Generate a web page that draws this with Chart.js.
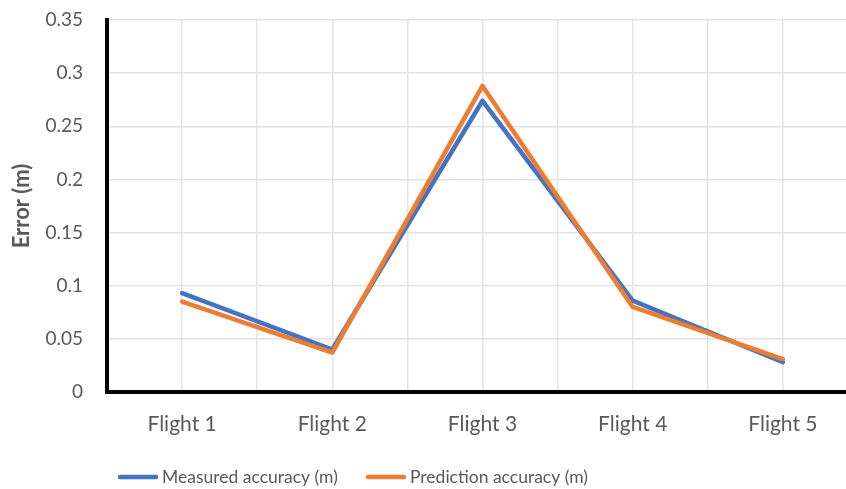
<!DOCTYPE html>
<html>
<head>
<meta charset="utf-8">
<script src="https://cdn.jsdelivr.net/npm/chart.js@4.4.1/dist/chart.umd.min.js"></script>
<style>
  html, body { margin: 0; padding: 0; background: #fff; overflow: hidden; }
  #wrap { width: 858px; height: 489px; }
</style>
</head>
<body>
<div id="wrap"><canvas id="chart" width="858" height="489"></canvas></div>
<script>
// Flights along the x axis
const categories = ['Flight 1', 'Flight 2', 'Flight 3', 'Flight 4', 'Flight 5'];

// Error per flight, metres
const measuredAccuracy = [0.093, 0.040, 0.274, 0.086, 0.028];
const predictionAccuracy = [0.085, 0.037, 0.288, 0.080, 0.031];

const seriesNames = ['Measured accuracy (m)', 'Prediction accuracy (m)'];
const yTicks = [0, 0.05, 0.1, 0.15, 0.2, 0.25, 0.3, 0.35];

const BLUE = '#4472C4';
const ORANGE = '#ED7D31';
const TEXT = '#595959';
const GRID = '#e3e3e3';
const FONT = 'Lato';

const toPoints = vals => vals.map((v, i) => ({ x: i + 1, y: v }));

// Legend drawn below the plot: a short line sample followed by the series name
const bottomLegend = {
  id: 'bottomLegend',
  afterDraw(chart, args, opts) {
    const ctx = chart.ctx;
    ctx.save();
    ctx.font = `${opts.fontSize}px ${FONT}`;
    ctx.textBaseline = 'middle';
    ctx.textAlign = 'left';
    chart.data.datasets.forEach((ds, i) => {
      const x = opts.starts[i];
      ctx.strokeStyle = ds.borderColor;
      ctx.lineWidth = opts.lineWidth;
      ctx.lineCap = 'round';
      ctx.beginPath();
      ctx.moveTo(x + 2, opts.y);
      ctx.lineTo(x + opts.sample - 2, opts.y);
      ctx.stroke();
      ctx.fillStyle = TEXT;
      ctx.fillText(ds.label, x + opts.sample + opts.gap, opts.y);
    });
    ctx.restore();
  }
};

new Chart(document.getElementById('chart'), {
  type: 'line',
  data: {
    datasets: [
      {
        label: seriesNames[0],
        data: toPoints(measuredAccuracy),
        borderColor: BLUE,
        backgroundColor: BLUE,
        borderWidth: 4.5,
        pointRadius: 0,
        tension: 0,
        borderCapStyle: 'round',
        borderJoinStyle: 'round',
        order: 1
      },
      {
        label: seriesNames[1],
        data: toPoints(predictionAccuracy),
        borderColor: ORANGE,
        backgroundColor: ORANGE,
        borderWidth: 4.5,
        pointRadius: 0,
        tension: 0,
        borderCapStyle: 'round',
        borderJoinStyle: 'round',
        order: 0
      }
    ]
  },
  options: {
    responsive: false,
    animation: false,
    layout: { padding: { top: 20, left: 0, right: 0, bottom: 52 } },
    plugins: {
      legend: { display: false },
      tooltip: { enabled: false },
      bottomLegend: { starts: [118, 366], y: 477, sample: 40, gap: 4, lineWidth: 4.5, fontSize: 17.5 }
    },
    scales: {
      x: {
        type: 'linear',
        min: 0.5,
        max: 5.5,
        afterFit: axis => { axis.height = 45; },
        grid: { color: GRID, lineWidth: 1.5, drawTicks: true, tickLength: 20, tickColor: 'rgba(0,0,0,0)' },
        border: { color: '#000', width: 4 },
        ticks: {
          stepSize: 0.5,
          autoSkip: false,
          maxRotation: 0,
          padding: 0,
          color: TEXT,
          font: { family: FONT, size: 21 },
          callback: v => Number.isInteger(v) ? categories[v - 1] : ''
        }
      },
      y: {
        min: 0,
        max: 0.35,
        afterBuildTicks: axis => { axis.ticks = yTicks.map(v => ({ value: v })); },
        afterFit: axis => { axis.width = 107; },
        grid: { color: GRID, lineWidth: 1.5, drawTicks: true, tickLength: 24, tickColor: 'rgba(0,0,0,0)' },
        border: { color: '#000', width: 4 },
        ticks: {
          padding: 0,
          color: TEXT,
          font: { family: FONT, size: 19 },
          callback: v => String(+v.toFixed(2))
        },
        title: {
          display: true,
          text: 'Error (m)',
          color: TEXT,
          font: { family: FONT, size: 22, weight: 'bold' },
          padding: { top: 9, bottom: 4 }
        }
      }
    }
  },
  plugins: [bottomLegend]
});
</script>
</body>
</html>
